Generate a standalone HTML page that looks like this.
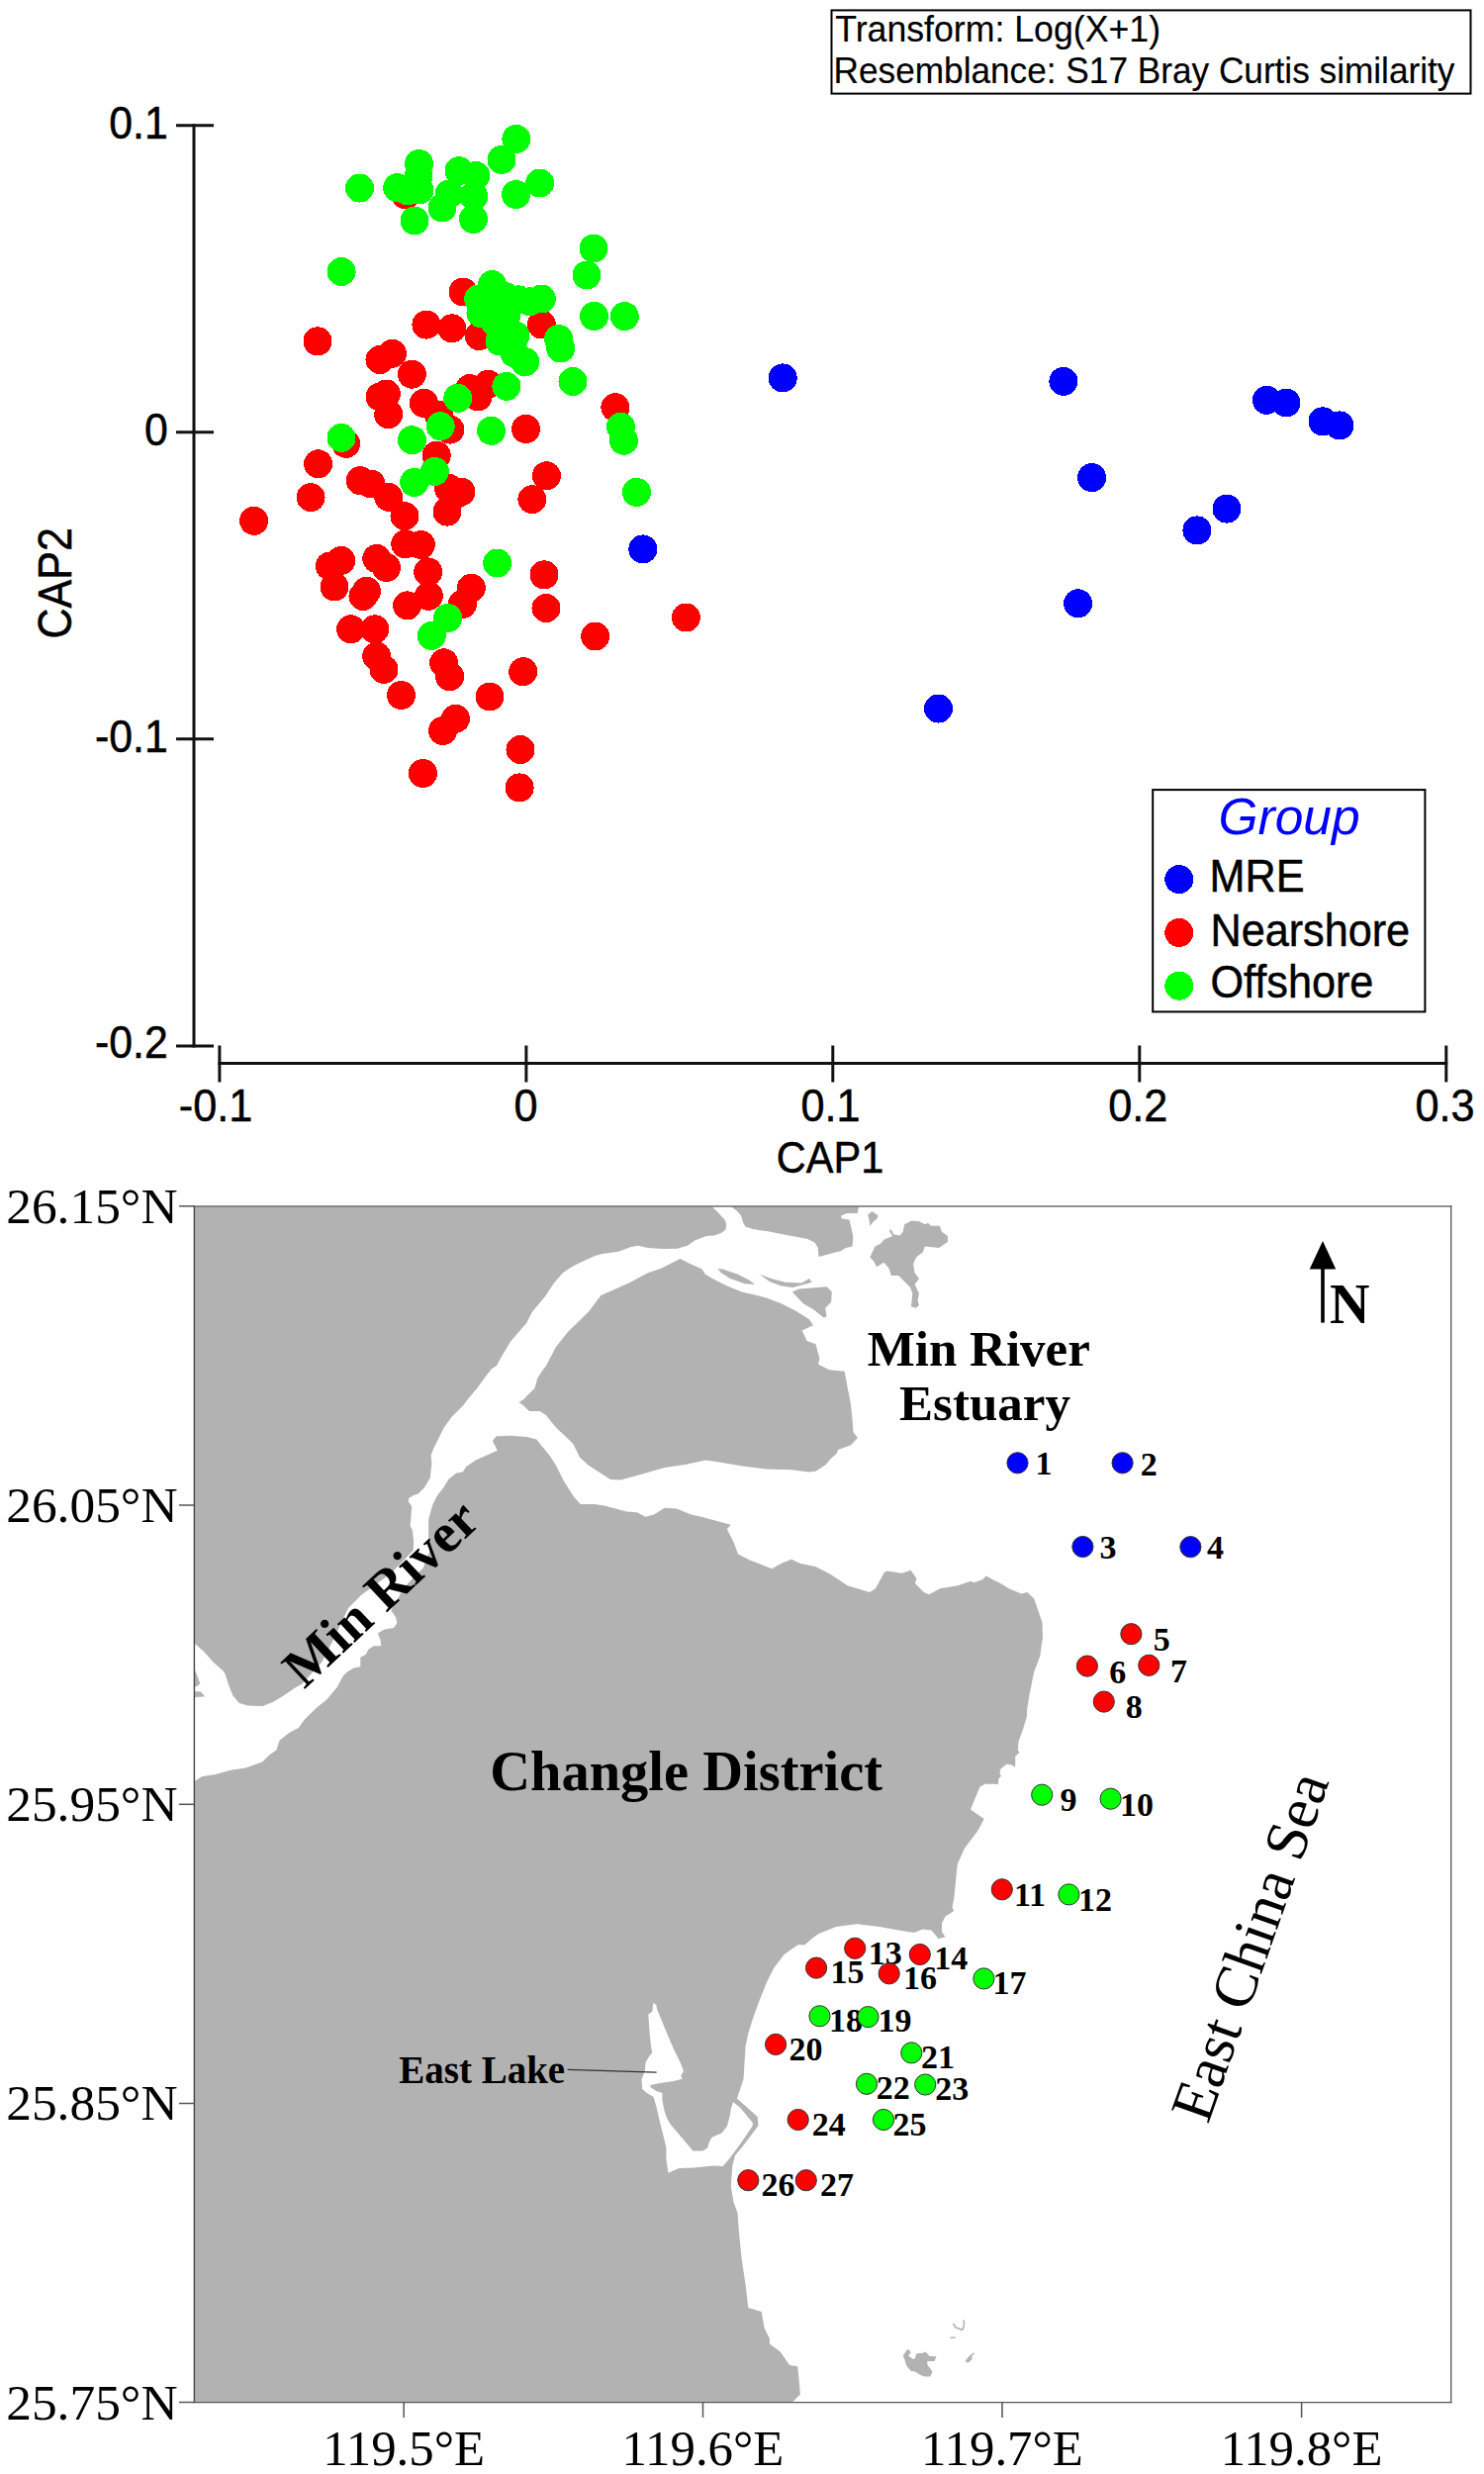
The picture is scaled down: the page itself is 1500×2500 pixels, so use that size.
<!DOCTYPE html>
<html><head><meta charset="utf-8"><title>CAP and map</title>
<style>
html,body{margin:0;padding:0;background:#fff;}
body{width:1500px;height:2500px;overflow:hidden;position:relative;}
svg{position:absolute;left:0;top:0;display:block;}
.sans{font-family:"Liberation Sans",sans-serif;}
.serif{font-family:"Liberation Serif",serif;}
</style></head><body>
<svg width="1500" height="2500" viewBox="0 0 1500 2500">
<rect x="0" y="0" width="1500" height="2500" fill="#fff"/>

<g stroke="#111" stroke-width="3" fill="none" stroke-linecap="butt">
<line x1="196" y1="125.2" x2="196" y2="1058.5"/>
<line x1="178" y1="126.7" x2="216" y2="126.7"/>
<line x1="178" y1="436.7" x2="216" y2="436.7"/>
<line x1="178" y1="746.7" x2="216" y2="746.7"/>
<line x1="178" y1="1056.9" x2="216" y2="1056.9"/>
<line x1="220.5" y1="1074.4" x2="1463.3" y2="1074.4"/>
<line x1="221.9" y1="1056.5" x2="221.9" y2="1093.5"/>
<line x1="531.9" y1="1056.5" x2="531.9" y2="1093.5"/>
<line x1="841.8" y1="1056.5" x2="841.8" y2="1093.5"/>
<line x1="1151.8" y1="1056.5" x2="1151.8" y2="1093.5"/>
<line x1="1461.8" y1="1056.5" x2="1461.8" y2="1093.5"/>
</g>
<g class="sans" font-size="42" fill="#000" stroke="#000" stroke-width="0.45" text-anchor="end">
<text transform="translate(169.8,140) scale(1.02,1.09)">0.1</text>
<text transform="translate(169.8,450) scale(1.02,1.09)">0</text>
<text transform="translate(169.8,760) scale(1.02,1.09)">-0.1</text>
<text transform="translate(169.8,1068.5) scale(1.02,1.09)">-0.2</text>
</g>
<g class="sans" font-size="42" fill="#000" stroke="#000" stroke-width="0.45" text-anchor="middle">
<text transform="translate(218,1132.5) scale(1.03,1.09)">-0.1</text>
<text transform="translate(531.5,1132.5) scale(1.03,1.09)">0</text>
<text transform="translate(839.5,1132.5) scale(1.03,1.09)">0.1</text>
<text transform="translate(1150.3,1132.5) scale(1.03,1.09)">0.2</text>
<text transform="translate(1460.5,1132.5) scale(1.03,1.09)">0.3</text>
<text transform="translate(839,1185) scale(0.99,1.07)">CAP1</text>
</g>
<text class="sans" font-size="43" fill="#000" stroke="#000" stroke-width="0.45" text-anchor="middle" transform="translate(71.5,589.3) rotate(-90) scale(1,1.12)">CAP2</text>
<rect x="840.5" y="10.4" width="646" height="84.2" fill="none" stroke="#000" stroke-width="2"/>
<text class="sans" font-size="35.7" fill="#000" stroke="#000" stroke-width="0.15" transform="translate(844.2,42.4) scale(1,1.06)">Transform: Log(X+1)</text>
<text class="sans" font-size="35.2" fill="#000" stroke="#000" stroke-width="0.15" transform="translate(842.6,84.4) scale(1,1.06)">Resemblance: S17 Bray Curtis similarity</text>
<g fill="#0000ff" shape-rendering="crispEdges"><circle cx="649.8" cy="554.9" r="14.5"/>
<circle cx="791.2" cy="381.9" r="14.5"/>
<circle cx="1074.9" cy="385.4" r="14.5"/>
<circle cx="1103.6" cy="482.6" r="14.5"/>
<circle cx="1089.6" cy="609.8" r="14.5"/>
<circle cx="948.5" cy="716.0" r="14.5"/>
<circle cx="1280.4" cy="404.3" r="14.5"/>
<circle cx="1300.0" cy="407.0" r="14.5"/>
<circle cx="1337.0" cy="425.8" r="14.5"/>
<circle cx="1353.9" cy="429.9" r="14.5"/>
<circle cx="1240.0" cy="514.1" r="14.5"/>
<circle cx="1209.9" cy="535.9" r="14.5"/></g>
<g fill="#ff0000" shape-rendering="crispEdges"><circle cx="410.0" cy="197.0" r="14.5"/>
<circle cx="468.0" cy="295.0" r="14.5"/>
<circle cx="430.9" cy="328.1" r="14.5"/>
<circle cx="456.8" cy="331.8" r="14.5"/>
<circle cx="484.4" cy="339.6" r="14.5"/>
<circle cx="321.0" cy="344.8" r="14.5"/>
<circle cx="547.4" cy="328.0" r="14.5"/>
<circle cx="384.0" cy="363.5" r="14.5"/>
<circle cx="396.5" cy="357.2" r="14.5"/>
<circle cx="416.4" cy="378.2" r="14.5"/>
<circle cx="384.0" cy="401.0" r="14.5"/>
<circle cx="392.7" cy="418.7" r="14.5"/>
<circle cx="428.3" cy="407.3" r="14.5"/>
<circle cx="443.4" cy="419.2" r="14.5"/>
<circle cx="349.6" cy="448.3" r="14.5"/>
<circle cx="321.6" cy="468.8" r="14.5"/>
<circle cx="441.2" cy="460.2" r="14.5"/>
<circle cx="474.8" cy="392.6" r="14.5"/>
<circle cx="493.4" cy="388.2" r="14.5"/>
<circle cx="621.9" cy="411.6" r="14.5"/>
<circle cx="531.5" cy="433.4" r="14.5"/>
<circle cx="552.4" cy="480.8" r="14.5"/>
<circle cx="537.9" cy="504.6" r="14.5"/>
<circle cx="454.8" cy="434.1" r="14.5"/>
<circle cx="460.8" cy="499.4" r="14.5"/>
<circle cx="256.6" cy="526.3" r="14.5"/>
<circle cx="314.1" cy="502.6" r="14.5"/>
<circle cx="364.2" cy="485.7" r="14.5"/>
<circle cx="375.0" cy="489.0" r="14.5"/>
<circle cx="392.7" cy="502.3" r="14.5"/>
<circle cx="409.0" cy="521.5" r="14.5"/>
<circle cx="409.8" cy="549.7" r="14.5"/>
<circle cx="425.3" cy="550.5" r="14.5"/>
<circle cx="432.7" cy="577.9" r="14.5"/>
<circle cx="344.8" cy="566.5" r="14.5"/>
<circle cx="333.3" cy="572.0" r="14.5"/>
<circle cx="338.0" cy="593.0" r="14.5"/>
<circle cx="380.8" cy="564.5" r="14.5"/>
<circle cx="390.5" cy="573.4" r="14.5"/>
<circle cx="370.5" cy="597.2" r="14.5"/>
<circle cx="453.5" cy="493.4" r="14.5"/>
<circle cx="452.0" cy="517.1" r="14.5"/>
<circle cx="466.0" cy="497.0" r="14.5"/>
<circle cx="550.0" cy="580.8" r="14.5"/>
<circle cx="552.0" cy="614.5" r="14.5"/>
<circle cx="601.6" cy="643.0" r="14.5"/>
<circle cx="433.3" cy="602.3" r="14.5"/>
<circle cx="476.3" cy="594.2" r="14.5"/>
<circle cx="467.4" cy="610.5" r="14.5"/>
<circle cx="411.6" cy="611.9" r="14.5"/>
<circle cx="354.6" cy="635.8" r="14.5"/>
<circle cx="378.8" cy="635.8" r="14.5"/>
<circle cx="380.7" cy="663.1" r="14.5"/>
<circle cx="388.0" cy="676.4" r="14.5"/>
<circle cx="405.5" cy="702.5" r="14.5"/>
<circle cx="448.6" cy="669.8" r="14.5"/>
<circle cx="454.7" cy="683.7" r="14.5"/>
<circle cx="528.7" cy="678.7" r="14.5"/>
<circle cx="495.0" cy="704.0" r="14.5"/>
<circle cx="460.4" cy="726.3" r="14.5"/>
<circle cx="447.6" cy="738.4" r="14.5"/>
<circle cx="427.4" cy="781.5" r="14.5"/>
<circle cx="526.0" cy="757.5" r="14.5"/>
<circle cx="525.1" cy="795.9" r="14.5"/>
<circle cx="693.4" cy="624.0" r="14.5"/>
<circle cx="367.0" cy="602.5" r="14.5"/>
<circle cx="483.0" cy="401.0" r="14.5"/>
<circle cx="390.4" cy="398.0" r="14.5"/></g>
<g fill="#00ff00" shape-rendering="crispEdges"><circle cx="363.5" cy="190.0" r="14.5"/>
<circle cx="401.7" cy="189.6" r="14.5"/>
<circle cx="423.5" cy="165.5" r="14.5"/>
<circle cx="423.8" cy="191.9" r="14.5"/>
<circle cx="419.0" cy="223.0" r="14.5"/>
<circle cx="454.0" cy="196.0" r="14.5"/>
<circle cx="447.0" cy="210.0" r="14.5"/>
<circle cx="464.0" cy="172.7" r="14.5"/>
<circle cx="480.8" cy="177.4" r="14.5"/>
<circle cx="478.8" cy="198.2" r="14.5"/>
<circle cx="478.4" cy="221.4" r="14.5"/>
<circle cx="507.0" cy="161.3" r="14.5"/>
<circle cx="521.8" cy="140.4" r="14.5"/>
<circle cx="521.5" cy="196.5" r="14.5"/>
<circle cx="545.6" cy="185.0" r="14.5"/>
<circle cx="345.1" cy="274.5" r="14.5"/>
<circle cx="497.5" cy="287.7" r="14.5"/>
<circle cx="483.6" cy="302.0" r="14.5"/>
<circle cx="547.4" cy="302.0" r="14.5"/>
<circle cx="535.5" cy="304.8" r="14.5"/>
<circle cx="486.0" cy="316.6" r="14.5"/>
<circle cx="521.0" cy="339.0" r="14.5"/>
<circle cx="505.0" cy="345.0" r="14.5"/>
<circle cx="530.8" cy="365.7" r="14.5"/>
<circle cx="564.7" cy="342.5" r="14.5"/>
<circle cx="566.7" cy="352.0" r="14.5"/>
<circle cx="593.0" cy="278.0" r="14.5"/>
<circle cx="600.0" cy="251.0" r="14.5"/>
<circle cx="600.5" cy="319.4" r="14.5"/>
<circle cx="579.0" cy="385.5" r="14.5"/>
<circle cx="445.2" cy="430.7" r="14.5"/>
<circle cx="462.8" cy="402.3" r="14.5"/>
<circle cx="416.4" cy="444.7" r="14.5"/>
<circle cx="345.0" cy="442.4" r="14.5"/>
<circle cx="511.9" cy="390.4" r="14.5"/>
<circle cx="627.5" cy="431.2" r="14.5"/>
<circle cx="630.5" cy="445.2" r="14.5"/>
<circle cx="643.4" cy="497.4" r="14.5"/>
<circle cx="496.6" cy="435.3" r="14.5"/>
<circle cx="439.3" cy="476.4" r="14.5"/>
<circle cx="631.3" cy="319.6" r="14.5"/>
<circle cx="418.7" cy="487.4" r="14.5"/>
<circle cx="502.6" cy="569.0" r="14.5"/>
<circle cx="452.6" cy="624.5" r="14.5"/>
<circle cx="436.3" cy="642.3" r="14.5"/>
<circle cx="510.6" cy="299.5" r="14.5"/>
<circle cx="523.8" cy="302.8" r="14.5"/>
<circle cx="500.7" cy="326.0" r="14.5"/>
<circle cx="512.0" cy="318.0" r="14.5"/>
<circle cx="520.0" cy="357.0" r="14.5"/>
<circle cx="497.0" cy="308.0" r="14.5"/>
<circle cx="423.0" cy="178.0" r="14.5"/>
<circle cx="412.0" cy="193.0" r="14.5"/></g>
<rect x="1165.2" y="798.1" width="275.2" height="224.3" fill="#fff" stroke="#000" stroke-width="2"/>
<text class="sans" font-size="51.5" font-style="italic" fill="#0000ff" x="1231.5" y="842.7">Group</text>
<circle cx="1191.8" cy="888.6" r="14.5" fill="#0000ff" shape-rendering="crispEdges"/>
<circle cx="1191.8" cy="942.5" r="14.5" fill="#ff0000" shape-rendering="crispEdges"/>
<circle cx="1191.8" cy="996.2" r="14.5" fill="#00ff00" shape-rendering="crispEdges"/>
<g class="sans" font-size="43.2" fill="#000" stroke="#000" stroke-width="0.45">
<text transform="translate(1222.5,901.2) scale(1,1.05)">MRE</text>
<text transform="translate(1223.5,955.5) scale(1,1.05)">Nearshore</text>
<text transform="translate(1223.5,1007.7) scale(1,1.05)">Offshore</text>
</g>
<g fill="#b2b2b2" stroke="none">
<polygon points="196.0,1219.0 719.4,1219.0 726.0,1225.4 732.7,1232.8 734.2,1237.2 733.5,1242.4 729.0,1246.1 721.6,1248.4 714.2,1249.1 702.3,1253.5 694.9,1258.7 684.5,1261.7 669.7,1262.1 654.9,1261.0 644.5,1258.7 637.1,1260.2 625.2,1264.7 608.9,1266.9 601.5,1269.1 589.7,1274.3 577.8,1280.2 568.9,1286.2 560.0,1296.5 551.2,1309.7 537.7,1325.9 532.3,1336.7 516.2,1355.5 508.0,1369.0 501.9,1380.0 497.0,1383.2 490.6,1391.3 482.5,1402.6 472.8,1414.0 467.9,1420.4 456.6,1431.8 448.5,1443.1 443.7,1452.8 438.8,1462.5 435.6,1470.6 436.4,1478.7 434.8,1493.2 429.1,1502.9 422.6,1509.4 417.8,1511.0 412.9,1514.2 412.9,1517.5 416.2,1522.3 415.4,1533.6 414.6,1541.7 416.9,1546.7 418.2,1557.5 417.6,1567.0 395.0,1590.0 365.0,1612.0 352.0,1625.0 338.0,1655.0 325.0,1680.0 305.4,1701.5 297.8,1705.8 287.0,1713.3 276.3,1719.8 265.5,1724.1 250.4,1723.6 241.8,1720.9 235.3,1713.3 231.0,1702.5 227.7,1691.8 225.6,1688.5 215.9,1679.9 206.2,1669.1 197.0,1661.0 196.0,1660.0"/>
<polygon points="196.0,1687.4 197.0,1687.4 200.0,1695.0 202.4,1701.5 199.0,1704.0 196.0,1704.7"/>
<polygon points="196.0,1709.0 203.0,1709.5 207.3,1714.4 196.0,1715.0"/>
<polygon points="738.7,1219.0 745.3,1223.9 749.0,1228.3 751.3,1235.8 753.5,1239.5 760.1,1241.7 767.6,1243.2 774.8,1243.9 789.7,1246.9 804.5,1249.8 816.3,1252.1 823.8,1255.8 826.7,1261.0 827.5,1269.9 837.1,1267.6 844.5,1265.4 850.4,1263.9 854.9,1261.0 861.6,1259.5 862.3,1249.1 860.8,1242.4 858.6,1232.8 850.4,1231.3 850.4,1228.3 856.4,1226.1 866.7,1226.1 868.2,1219.0"/>
<polygon points="552.0,1380.0 547.2,1386.5 543.1,1392.9 540.7,1402.6 534.2,1409.1 529.4,1414.0 524.5,1416.9 529.4,1420.4 535.0,1426.1 545.6,1426.1 552.0,1430.1 558.5,1438.2 563.4,1443.9 571.4,1451.2 579.5,1459.2 585.9,1472.6 594.8,1480.8 617.1,1494.9 627.4,1495.6 648.2,1489.7 671.9,1483.0 692.7,1480.0 713.4,1475.6 728.3,1477.8 750.5,1481.5 774.2,1484.5 800.0,1485.2 817.2,1487.6 824.5,1486.8 834.2,1480.4 839.8,1473.9 845.5,1469.0 847.1,1465.0 860.0,1460.2 866.9,1452.9 862.5,1447.2 861.6,1435.1 860.0,1418.9 856.8,1402.8 853.6,1385.8 838.2,1384.2 826.9,1378.5 828.5,1373.2 824.5,1358.3 815.6,1355.1 810.7,1344.6 822.0,1339.3 818.0,1333.2 804.5,1324.7 789.7,1317.3 774.8,1311.4 760.0,1307.7 749.8,1305.4 733.5,1298.8 720.1,1292.1 712.7,1287.6 709.7,1282.5 696.4,1276.5 687.5,1272.1 678.6,1276.5 668.2,1281.7 654.9,1286.2 637.1,1295.8 622.3,1302.5 607.4,1309.1 595.6,1324.7 583.7,1336.6 574.8,1345.0 562.0,1361.0"/>
<polygon points="725.3,1281.7 730.5,1282.5 745.3,1287.6 757.2,1293.6 763.1,1298.0 752.7,1297.3 737.9,1292.1 729.0,1286.2"/>
<polygon points="767.4,1287.6 779.3,1292.1 794.1,1295.8 810.4,1296.5 817.8,1292.1 820.8,1295.8 801.5,1301.0 789.7,1299.5 777.8,1295.1"/>
<polygon points="800.8,1305.4 807.4,1302.5 835.6,1300.2 840.8,1305.4 840.1,1315.8 834.1,1321.7 835.6,1330.6 832.6,1331.4 822.3,1323.2 811.9,1317.3"/>
<polygon points="879.3,1270.6 884.5,1259.5 890.5,1256.5 893.4,1252.8 902.3,1249.1 900.1,1246.1 898.6,1242.4 901.0,1243.0 903.5,1247.5 909.7,1248.4 912.7,1244.7 914.2,1237.2 921.6,1233.5 929.0,1234.3 935.0,1237.2 937.9,1235.8 940.9,1238.7 949.8,1238.7 952.0,1244.7 957.9,1249.1 957.9,1255.0 949.0,1261.0 934.9,1259.5 932.7,1265.4 926.0,1270.6 923.1,1277.3 924.6,1286.2 929.0,1292.1 924.6,1298.0 929.0,1306.9 927.5,1314.3 929.0,1318.8 926.0,1321.7 920.9,1320.3 922.3,1306.9 920.1,1301.0 908.3,1289.1 900.8,1289.1 898.6,1281.7 893.4,1275.8 886.0,1280.2 883.1,1274.3"/>
<polygon points="881.6,1223.9 887.5,1228.3 886.8,1231.3 883.1,1234.3 879.3,1238.7 878.6,1232.8 877.1,1227.6"/>
<polygon points="196.0,1800.6 204.0,1795.3 218.0,1793.1 233.1,1788.8 248.2,1786.6 265.5,1780.2 271.9,1773.7 279.5,1768.3 282.7,1758.6 292.4,1751.0 302.1,1745.7 307.5,1738.1 319.4,1726.3 330.2,1717.6 340.9,1704.7 346.8,1693.6 350.9,1689.6 357.6,1685.5 364.3,1684.2 364.3,1674.8 369.7,1672.1 372.4,1666.7 377.8,1663.3 385.2,1663.3 384.6,1657.3 381.9,1650.5 388.6,1646.5 398.0,1645.1 401.4,1639.7 400.0,1634.3 395.3,1627.6 405.0,1610.0 412.9,1599.3 427.7,1584.5 434.4,1567.0 433.1,1550.8 433.2,1535.3 437.2,1520.7 442.1,1511.0 448.5,1502.9 453.4,1494.8 461.5,1488.4 467.9,1487.6 471.2,1481.9 480.9,1475.4 492.2,1470.6 502.7,1465.7 497.8,1456.0 501.9,1451.2 516.4,1450.8 532.6,1452.0 542.3,1454.4 548.8,1462.5 555.3,1470.6 561.7,1480.3 569.8,1496.4 580.0,1512.6 586.7,1520.1 600.8,1520.1 611.1,1521.5 633.4,1527.5 643.8,1528.2 652.6,1532.7 660.8,1530.4 671.9,1523.8 683.8,1524.5 698.6,1530.4 709.0,1532.7 728.3,1537.9 738.6,1540.8 734.9,1545.3 741.6,1558.6 746.0,1570.5 757.9,1576.4 780.1,1585.3 790.5,1579.4 800.0,1575.7 809.3,1580.0 824.1,1583.0 838.9,1590.4 856.7,1602.3 879.0,1608.9 884.9,1605.2 893.8,1588.9 896.7,1587.4 911.6,1589.7 920.5,1586.7 926.4,1594.9 924.9,1600.0 933.8,1608.9 939.0,1611.2 950.1,1605.2 967.9,1602.3 981.3,1597.8 984.2,1599.3 993.1,1596.3 996.8,1592.6 1005.0,1597.1 1010.0,1599.3 1020.9,1605.8 1032.5,1610.5 1038.3,1608.9 1045.1,1615.2 1053.5,1639.4 1054.0,1655.1 1052.5,1663.6 1051.4,1673.0 1045.1,1689.8 1043.0,1700.3 1040.9,1710.8 1038.3,1726.6 1037.8,1735.0 1034.6,1745.5 1029.4,1760.2 1028.8,1768.6 1030.4,1770.7 1026.2,1774.9 1026.2,1785.4 1022.0,1783.3 1017.3,1782.8 1011.5,1787.5 1010.4,1792.3 1012.0,1794.4 1009.4,1797.5 1008.9,1803.3 1005.2,1802.8 995.7,1802.8 990.5,1805.4 981.0,1828.5 994.7,1838.0 988.4,1850.0 985.3,1854.0 974.8,1868.0 967.8,1883.8 966.0,1901.3 964.2,1918.8 962.5,1927.6 964.2,1931.1 955.5,1936.4 952.0,1943.4 952.0,1952.1 955.5,1957.4 948.5,1959.1 941.5,1950.4 932.7,1949.5 924.0,1953.0 908.2,1950.4 888.9,1946.9 866.1,1944.2 845.1,1946.9 827.6,1953.9 820.6,1959.1 813.6,1965.3 806.6,1965.3 792.6,1974.9 782.0,1988.9 775.0,2002.9 768.0,2020.4 761.0,2039.7 756.5,2054.0 753.6,2067.8 752.3,2088.0 751.6,2100.2 748.2,2110.9 744.9,2120.4 765.8,2139.2 766.4,2148.0 759.0,2158.1 749.6,2170.2 742.9,2178.3 740.2,2189.1 738.8,2209.4 741.5,2225.6 745.6,2236.3 746.9,2255.2 749.6,2282.2 753.6,2309.1 756.3,2332.0 769.8,2336.1 772.5,2352.2 777.9,2363.0 777.9,2368.4 788.7,2376.5 798.1,2390.0 806.2,2391.3 807.5,2403.5 808.9,2419.6 800.8,2427.5 196.0,2427.5"/>
<polygon points="917.5,2373.8 920.9,2376.8 918.2,2380.5 922.9,2383.9 924.9,2383.2 926.3,2378.2 933.0,2377.8 935.4,2376.5 938.7,2379.9 939.8,2380.9 946.5,2380.9 944.5,2385.9 937.1,2385.9 937.7,2390.6 939.8,2392.7 942.5,2396.7 940.4,2401.4 934.4,2401.4 930.3,2400.1 925.6,2396.7 920.9,2396.0 916.2,2390.6 914.2,2383.9 912.8,2379.9 915.5,2376.5"/>
<polygon points="984.2,2377.2 985.2,2378.2 982.5,2380.2 982.5,2383.9 979.2,2387.3 976.1,2387.3 976.1,2385.3 980.2,2380.2"/>
</g>
<g fill="#fff" stroke="none">
<polygon points="660.6,2024.0 663.3,2026.0 664.0,2030.1 672.8,2051.6 680.9,2070.5 687.6,2084.0 691.0,2092.7 688.3,2097.5 689.6,2100.8 680.9,2102.9 667.4,2104.9 657.3,2106.9 658.0,2109.6 663.3,2113.0 669.4,2115.0 669.4,2121.7 671.4,2132.5 674.1,2140.6 678.2,2147.3 686.3,2156.8 694.3,2166.2 700.4,2173.6 710.5,2173.6 715.2,2170.2 717.3,2163.5 719.9,2159.5 729.4,2155.4 734.8,2148.7 737.5,2139.2 738.8,2131.2 740.8,2124.4 741.5,2124.4 748.2,2129.8 755.0,2137.9 761.0,2145.3 760.4,2148.7 755.0,2156.8 745.6,2170.2 737.5,2181.0 730.7,2189.1 721.3,2188.4 701.1,2190.5 686.3,2191.1 675.5,2195.8 673.5,2182.4 673.5,2170.2 670.1,2156.8 667.4,2146.0 663.3,2128.5 660.6,2119.0 653.9,2115.0 649.2,2110.9 648.5,2101.5 651.9,2092.1 652.6,2084.0 656.6,2077.3 659.3,2074.6 658.0,2067.8 656.6,2054.3 655.3,2035.5 659.3,2032.8 660.0,2026.0"/>
</g>
<polyline points="963.5,2348.0 966.0,2352.0 969.0,2353.0 972.5,2354.5 974.0,2352.0 974.5,2347.0 974.0,2344.5" fill="none" stroke="#b2b2b2" stroke-width="1.6"/>
<polyline points="960.5,2362.5 965.5,2362.0" fill="none" stroke="#b2b2b2" stroke-width="1.6"/>
<line x1="195.7" y1="1219" x2="1467.4" y2="1219" stroke="#6e6e6e" stroke-width="1.6"/>
<line x1="196.4" y1="1218.2" x2="196.4" y2="2428.2" stroke="#444" stroke-width="1.4"/>
<line x1="1466.7" y1="1218.2" x2="1466.7" y2="2428.2" stroke="#555" stroke-width="1.3"/>
<line x1="195.7" y1="2427.6" x2="1467.4" y2="2427.6" stroke="#555" stroke-width="1.4"/>
<g stroke="#555" stroke-width="1.5">
<line x1="181" y1="1218.8" x2="196" y2="1218.8"/>
<line x1="181" y1="1521" x2="196" y2="1521"/>
<line x1="181" y1="1823.3" x2="196" y2="1823.3"/>
<line x1="181" y1="2125.5" x2="196" y2="2125.5"/>
<line x1="181" y1="2427.5" x2="196" y2="2427.5"/>
<line x1="408.2" y1="2427.5" x2="408.2" y2="2443"/>
<line x1="710.5" y1="2427.5" x2="710.5" y2="2443"/>
<line x1="1013" y1="2427.5" x2="1013" y2="2443"/>
<line x1="1315.6" y1="2427.5" x2="1315.6" y2="2443"/>
</g>
<g class="serif" font-size="51.4" fill="#000" text-anchor="end">
<text x="179.5" y="1235.6">26.15°N</text>
<text x="179.5" y="1537.8">26.05°N</text>
<text x="179.5" y="1840">25.95°N</text>
<text x="179.5" y="2142.3">25.85°N</text>
<text x="179.5" y="2444.5">25.75°N</text>
</g>
<g class="serif" font-size="50.8" fill="#000" text-anchor="middle">
<text x="408.2" y="2491">119.5°E</text>
<text x="710.5" y="2491">119.6°E</text>
<text x="1013" y="2491">119.7°E</text>
<text x="1315.6" y="2491">119.8°E</text>
</g>
<line x1="573.7" y1="2091.3" x2="663.6" y2="2094.2" stroke="#333" stroke-width="1.3"/>
<g class="serif" font-weight="bold" fill="#000">
<text font-size="56.5" x="693.7" y="1808.8" text-anchor="middle">Changle District</text>
<text font-size="51" x="989.3" y="1379.6" text-anchor="middle">Min River</text>
<text font-size="51" x="995.5" y="1435.1" text-anchor="middle">Estuary</text>
<text font-size="39" x="487.2" y="2104.6" text-anchor="middle">East Lake</text>
<text font-size="55.8" text-anchor="middle" transform="translate(397.5,1623.4) rotate(-43.1)">Min River</text>
<text font-size="56" x="1364.3" y="1336.7" text-anchor="middle">N</text>
</g>
<text class="serif" font-size="60.8" fill="#000" text-anchor="middle" transform="translate(1263.5,1967) rotate(-70.5)" dy="20">East China Sea</text>
<polygon points="1323.7,1282.5 1350.2,1282.5 1337,1253.9" fill="#000"/>
<line x1="1337" y1="1280" x2="1337" y2="1336.6" stroke="#000" stroke-width="3.6"/>
<g class="serif" font-weight="bold" font-size="34" fill="#000">
<text x="1046.4" y="1490.3">1</text>
<text x="1152.7" y="1490.5">2</text>
<text x="1111.4" y="1574.9">3</text>
<text x="1220.1" y="1575.1">4</text>
<text x="1165.7" y="1667.9">5</text>
<text x="1121.3" y="1700.5">6</text>
<text x="1183.1" y="1700.0">7</text>
<text x="1137.8" y="1736.3">8</text>
<text x="1071.4" y="1829.9">9</text>
<text x="1132.1" y="1834.5">10</text>
<text x="1024.9" y="1925.7">11</text>
<text x="1090.0" y="1930.8">12</text>
<text x="877.7" y="1984.6">13</text>
<text x="944.2" y="1990.2">14</text>
<text x="839.5" y="2004.3">15</text>
<text x="913.1" y="2010.0">16</text>
<text x="1003.6" y="2014.8">17</text>
<text x="838.1" y="2053.3">18</text>
<text x="887.6" y="2053.3">19</text>
<text x="797.4" y="2081.6">20</text>
<text x="931.1" y="2090.1">21</text>
<text x="885.8" y="2121.2">22</text>
<text x="945.2" y="2121.8">23</text>
<text x="820.8" y="2157.9">24</text>
<text x="902.4" y="2157.9">25</text>
<text x="769.6" y="2219.1">26</text>
<text x="828.9" y="2219.1">27</text>
</g>
<circle cx="1028.5" cy="1478.3" r="10.6" fill="#0000ff" stroke="#333" stroke-width="1"/>
<circle cx="1134.6" cy="1478.3" r="10.6" fill="#0000ff" stroke="#333" stroke-width="1"/>
<circle cx="1094.4" cy="1563.0" r="10.6" fill="#0000ff" stroke="#333" stroke-width="1"/>
<circle cx="1203.4" cy="1563.2" r="10.6" fill="#0000ff" stroke="#333" stroke-width="1"/>
<circle cx="1143.4" cy="1651.2" r="10.6" fill="#ff0000" stroke="#333" stroke-width="1"/>
<circle cx="1098.9" cy="1683.6" r="10.6" fill="#ff0000" stroke="#333" stroke-width="1"/>
<circle cx="1161.3" cy="1682.8" r="10.6" fill="#ff0000" stroke="#333" stroke-width="1"/>
<circle cx="1115.8" cy="1719.6" r="10.6" fill="#ff0000" stroke="#333" stroke-width="1"/>
<circle cx="1053.2" cy="1813.7" r="10.6" fill="#00ff00" stroke="#333" stroke-width="1"/>
<circle cx="1122.6" cy="1817.7" r="10.6" fill="#00ff00" stroke="#333" stroke-width="1"/>
<circle cx="1012.8" cy="1909.3" r="10.6" fill="#ff0000" stroke="#333" stroke-width="1"/>
<circle cx="1080.4" cy="1914.4" r="10.6" fill="#00ff00" stroke="#333" stroke-width="1"/>
<circle cx="864.2" cy="1968.8" r="10.6" fill="#ff0000" stroke="#333" stroke-width="1"/>
<circle cx="929.8" cy="1975" r="10.6" fill="#ff0000" stroke="#333" stroke-width="1"/>
<circle cx="825.1" cy="1988.6" r="10.6" fill="#ff0000" stroke="#333" stroke-width="1"/>
<circle cx="898.7" cy="1994.3" r="10.6" fill="#ff0000" stroke="#333" stroke-width="1"/>
<circle cx="994.4" cy="1999.4" r="10.6" fill="#00ff00" stroke="#333" stroke-width="1"/>
<circle cx="828.5" cy="2037.3" r="10.6" fill="#00ff00" stroke="#333" stroke-width="1"/>
<circle cx="877.5" cy="2038.1" r="10.6" fill="#00ff00" stroke="#333" stroke-width="1"/>
<circle cx="784.1" cy="2065.9" r="10.6" fill="#ff0000" stroke="#333" stroke-width="1"/>
<circle cx="921.3" cy="2074.4" r="10.6" fill="#00ff00" stroke="#333" stroke-width="1"/>
<circle cx="876" cy="2105.8" r="10.6" fill="#00ff00" stroke="#333" stroke-width="1"/>
<circle cx="935.2" cy="2106.5" r="10.6" fill="#00ff00" stroke="#333" stroke-width="1"/>
<circle cx="806.7" cy="2142" r="10.6" fill="#ff0000" stroke="#333" stroke-width="1"/>
<circle cx="893" cy="2142" r="10.6" fill="#00ff00" stroke="#333" stroke-width="1"/>
<circle cx="756.3" cy="2203.2" r="10.6" fill="#ff0000" stroke="#333" stroke-width="1"/>
<circle cx="814.8" cy="2203.2" r="10.6" fill="#ff0000" stroke="#333" stroke-width="1"/>
</svg>
</body></html>
